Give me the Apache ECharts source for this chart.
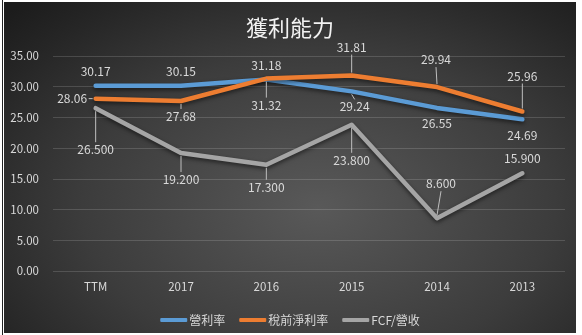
<!DOCTYPE html>
<html>
<head>
<meta charset="utf-8">
<script src="https://cdn.jsdelivr.net/npm/echarts@6/dist/echarts.min.js"></script>
<style>
  html, body { margin: 0; padding: 0; background: #ffffff; }
  #page { position: relative; width: 582px; height: 335px; overflow: hidden; background: #ffffff; }
  #edge { position: absolute; left: 2px; top: 0; width: 1px; height: 335px; background: #222; }
  #chart {
    position: absolute; left: 4px; top: 2px; width: 572px; height: 331px;
    background: radial-gradient(ellipse 75% 85% at 55% 62%, #595959 0%, #3c3c3c 55%, #262626 85%, #1c1c1c 100%);
  }
</style>
</head>
<body>
<div id="page">
  <div id="edge"></div>
  <div id="chart"></div>
</div>
<script>
// Periods shown along the x axis
var periods = ['TTM', '2017', '2016', '2015', '2014', '2013'];

// Ratios (%)
var operatingMargin = [30.17, 30.15, 31.18, 29.24, 26.55, 24.69];
var pretaxMargin    = [28.06, 27.68, 31.32, 31.81, 29.94, 25.96];
var fcfToRevenue    = [26.5, 19.2, 17.3, 23.8, 8.6, 15.9];

var seriesNames = ['營利率', '稅前淨利率', 'FCF/營收'];
var yTicks = { min: 0, max: 35, step: 5 };

// Data label placement per point: [position, distance, leader line, horizontal shift]
var placeOperating = [['top', 8, false, 0], ['top', 8, false, 0], ['top', 8, false, 0], ['bottom', 9, true, 3], ['bottom', 9, false, 0], ['bottom', 10, false, 0]];
var placePretax    = [['left', 8, true, 0], ['bottom', 9, true, 0], ['bottom', 20, true, 0], ['top', 22, true, 0], ['top', 21, true, -1], ['top', 29, true, 0]];
var placeFcf       = [['bottom', 35, true, 0], ['bottom', 20, true, 0], ['bottom', 16, true, 0], ['bottom', 29, true, 0], ['top', 28, true, 4], ['top', 8, false, 0]];

var labelColor = '#d9d9d9';
var font = '"Noto Sans CJK TC", "Noto Sans", sans-serif';

function buildData(values, place, decimals) {
  return values.map(function (v, i) {
    var p = place[i];
    return {
      value: v,
      label: {
        show: true,
        position: p[0],
        distance: p[1],
        offset: [p[3], 0],
        formatter: v.toFixed(decimals)
      }
    };
  });
}

function lineSeries(name, values, place, decimals, color) {
  return {
    name: name,
    type: 'line',
    data: buildData(values, place, decimals),
    symbol: 'circle',
    symbolSize: 1,
    showSymbol: true,
    lineStyle: {
      color: color, width: 4.5, cap: 'round', join: 'round',
      shadowColor: 'rgba(0,0,0,0.55)', shadowBlur: 4, shadowOffsetY: 2
    },
    itemStyle: { color: color },
    label: { color: labelColor, fontSize: 12, fontFamily: font },
    emphasis: { disabled: true },
    animation: false,
    z: 2
  };
}

// Thin leader lines running from each point toward its data label
function leaderSeries(values, place) {
  return {
    type: 'custom',
    data: values.map(function (v, i) { return [i, v]; }),
    silent: true,
    animation: false,
    z: 4,
    renderItem: function (params, api) {
      var p = place[params.dataIndex];
      if (!p[2]) return null;
      var pt = api.coord([api.value(0), api.value(1)]);
      var x1, y1, x2, y2;
      if (p[0] === 'left') {
        x1 = pt[0] - 3; y1 = pt[1];
        x2 = pt[0] - p[1] + 1; y2 = pt[1];
      } else {
        var dir = p[0] === 'top' ? -1 : 1;
        x1 = pt[0]; y1 = pt[1] + dir * 3;
        x2 = pt[0] + p[3]; y2 = pt[1] + dir * (p[1] - 1);
      }
      return {
        type: 'line',
        shape: { x1: x1, y1: y1, x2: x2, y2: y2 },
        style: { stroke: '#bfbfbf', lineWidth: 1 }
      };
    }
  };
}

var chart = echarts.init(document.getElementById('chart'), null, { renderer: 'canvas' });

chart.setOption({
  backgroundColor: 'transparent',
  title: {
    text: '獲利能力',
    left: 'center',
    top: 10,
    textStyle: { color: '#f2f2f2', fontSize: 22, fontWeight: 'normal', fontFamily: font }
  },
  legend: {
    bottom: 2,
    left: 'center',
    icon: 'roundRect',
    itemWidth: 27,
    itemHeight: 4,
    itemGap: 14,
    textStyle: { color: labelColor, fontSize: 12, fontFamily: font, padding: [0, 0, 0, -3] },
    data: seriesNames
  },
  grid: { left: 49, right: 11, top: 54, bottom: 62, containLabel: false },
  xAxis: {
    type: 'category',
    data: periods,
    boundaryGap: true,
    axisLine: { show: false },
    axisTick: { show: false },
    axisLabel: { color: labelColor, fontSize: 11.5, fontFamily: font, margin: 10 }
  },
  yAxis: {
    type: 'value',
    min: yTicks.min,
    max: yTicks.max,
    interval: yTicks.step,
    axisLine: { show: false },
    axisTick: { show: false },
    splitLine: { lineStyle: { color: 'rgba(255,255,255,0.15)', width: 1 } },
    axisLabel: {
      color: labelColor, fontSize: 11.5, fontFamily: font, margin: 14,
      formatter: function (v) { return v.toFixed(2); }
    }
  },
  series: [
    lineSeries(seriesNames[0], operatingMargin, placeOperating, 2, '#5b9bd5'),
    lineSeries(seriesNames[1], pretaxMargin, placePretax, 2, '#ed7d31'),
    lineSeries(seriesNames[2], fcfToRevenue, placeFcf, 3, '#a5a5a5'),
    leaderSeries(operatingMargin, placeOperating),
    leaderSeries(pretaxMargin, placePretax),
    leaderSeries(fcfToRevenue, placeFcf)
  ]
});
</script>
</body>
</html>
